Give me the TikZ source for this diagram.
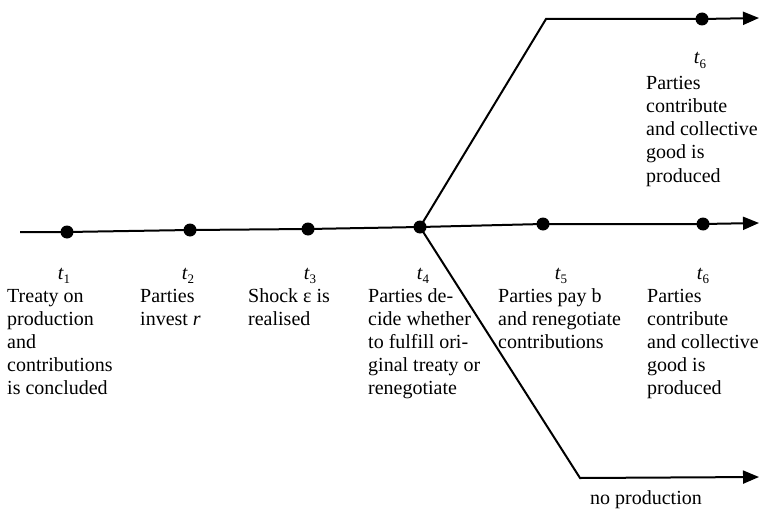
\documentclass[tikz,border=0pt]{standalone}
\usepackage{fontspec}
\setmainfont{Liberation Serif}
\usetikzlibrary{arrows.meta}
\newcommand{\tlab}[1]{{\itshape t}\raisebox{-0.22em}{\fontsize{13}{13}\selectfont #1}}
\newcommand{\multiline}[1]{\begin{tabular}[t]{@{}l@{}}#1\end{tabular}}
\begin{document}
\begin{tikzpicture}[x=1pt,y=-1pt,
  dot/.style={circle,fill=black,inner sep=0pt,minimum size=13pt},
  line/.style={line width=2pt},
  arr/.style={-{Triangle[length=16pt,width=13pt]}},
  txt/.style={anchor=base west,inner sep=0pt,font=\fontsize{20}{23}\selectfont},
  tl/.style={anchor=base,inner sep=0pt,font=\fontsize{20}{23}\selectfont}]
\useasboundingbox (0,0) rectangle (759,508);
% main timeline
\coordinate (L) at (20,232);
\node[dot] (d1) at (67,232) {};
\node[dot] (d2) at (190,230) {};
\node[dot] (d3) at (308,229) {};
\node[dot] (d4) at (420,227) {};
\node[dot] (d5) at (543,224) {};
\node[dot] (d6) at (703,224) {};
\coordinate (E) at (759,223);
\draw[line,arr] (L) -- (d1.center) -- (d2.center) -- (d3.center) -- (d4.center) -- (d5.center) -- (d6.center) -- (E);
% upper branch
\coordinate (U1) at (546,19);
\node[dot] (u6) at (702,19) {};
\coordinate (UE) at (759,18);
\draw[line,arr] (d4.center) -- (U1) -- (u6.center) -- (UE);
% lower branch
\coordinate (B1) at (580,478);
\coordinate (BE) at (759,477);
\draw[line,arr] (d4.center) -- (B1) -- (BE);
% labels
\node[tl] (l1) at (64,279) {\tlab{1}};
\node[tl] (l2) at (188,279) {\tlab{2}};
\node[tl] (l3) at (310,279) {\tlab{3}};
\node[tl] (l4) at (423,279) {\tlab{4}};
\node[tl] (l5) at (561,279) {\tlab{5}};
\node[tl] (l6) at (703,279) {\tlab{6}};
\node[tl] (lu6) at (700,64) {\tlab{6}};
\node[txt] (x1) at (7,302) {\multiline{Treaty on\\production\\and\\contributions\\is concluded}};
\node[txt] (x2) at (140,302) {\multiline{Parties\\invest \textit{r}}};
\node[txt] (x3) at (248,302) {\multiline{Shock ɛ is\\realised}};
\node[txt] (x4) at (368,302) {\multiline{Parties de-\\cide whether\\to fulfill ori-\\ginal treaty or\\renegotiate}};
\node[txt] (x5) at (498,302) {\multiline{Parties pay b\\and renegotiate\\contributions}};
\node[txt] (x6) at (647,302) {\multiline{Parties\\contribute\\and collective\\good is\\produced}};
\node[txt] (xu6) at (646,90) {\multiline{Parties\\contribute\\and collective\\good is\\produced}};
\node[tl] (np) at (646,504) {no production};
\end{tikzpicture}
\end{document}
